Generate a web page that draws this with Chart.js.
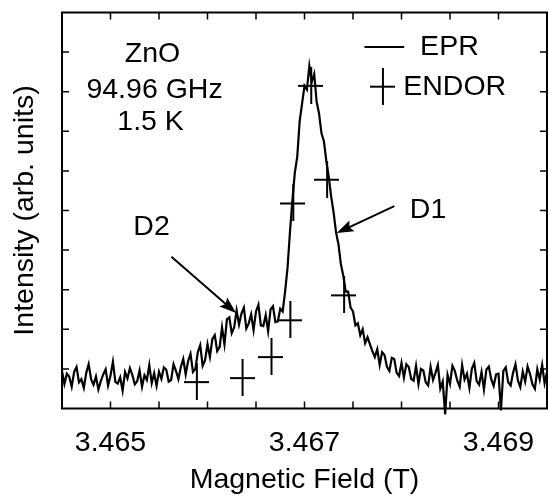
<!DOCTYPE html>
<html>
<head>
<meta charset="utf-8">
<script src="https://cdn.jsdelivr.net/npm/chart.js@4/dist/chart.umd.min.js"></script>
<style>
html,body{margin:0;padding:0;background:#fff;}
canvas{display:block;}
</style>
</head>
<body>
<canvas id="c" width="548" height="497"></canvas>
<script>
// ---------- data ----------
const xMin = 3.4645, xMax = 3.4695;
const yMin = 0, yMax = 10;
const xTickLabels = [3.465, 3.467, 3.469];

// EPR spectrum: magnetic field (T)
const eprField = [
3.464500,3.464525,3.464550,3.464575,3.464600,3.464625,3.464650,3.464675,3.464700,3.464725,
3.464750,3.464775,3.464800,3.464825,3.464850,3.464875,3.464900,3.464925,3.464950,3.464975,
3.465000,3.465025,3.465050,3.465075,3.465100,3.465125,3.465150,3.465175,3.465200,3.465225,
3.465250,3.465275,3.465300,3.465325,3.465350,3.465375,3.465400,3.465425,3.465450,3.465475,
3.465500,3.465525,3.465550,3.465575,3.465600,3.465625,3.465650,3.465675,3.465700,3.465725,
3.465750,3.465775,3.465800,3.465825,3.465850,3.465875,3.465900,3.465925,3.465950,3.465975,
3.466000,3.466025,3.466050,3.466075,3.466100,3.466125,3.466150,3.466175,3.466200,3.466225,
3.466250,3.466275,3.466300,3.466325,3.466350,3.466375,3.466400,3.466425,3.466450,3.466475,
3.466500,3.466525,3.466550,3.466575,3.466600,3.466625,3.466650,3.466675,3.466700,3.466725,
3.466750,3.466775,3.466800,3.466825,3.466850,3.466875,3.466900,3.466925,3.466950,3.466975,
3.467000,3.467025,3.467050,3.467075,3.467100,3.467125,3.467150,3.467175,3.467200,3.467225,
3.467250,3.467275,3.467300,3.467325,3.467350,3.467375,3.467400,3.467425,3.467450,3.467475,
3.467500,3.467525,3.467550,3.467575,3.467600,3.467625,3.467650,3.467675,3.467700,3.467725,
3.467750,3.467775,3.467800,3.467825,3.467850,3.467875,3.467900,3.467925,3.467950,3.467975,
3.468000,3.468025,3.468050,3.468075,3.468100,3.468125,3.468150,3.468175,3.468200,3.468225,
3.468250,3.468275,3.468300,3.468325,3.468350,3.468375,3.468400,3.468425,3.468450,3.468475,
3.468500,3.468525,3.468550,3.468575,3.468600,3.468625,3.468650,3.468675,3.468700,3.468725,
3.468750,3.468775,3.468800,3.468825,3.468850,3.468875,3.468900,3.468925,3.468950,3.468975,
3.469000,3.469025,3.469050,3.469075,3.469100,3.469125,3.469150,3.469175,3.469200,3.469225,
3.469250,3.469275,3.469300,3.469325,3.469350,3.469375,3.469400,3.469425,3.469450,3.469475,
3.469500
];
// EPR spectrum: intensity (arb. units)
const eprIntensity = [
0.95,0.62,0.88,0.80,0.55,0.92,1.05,0.66,0.74,0.52,
0.90,1.12,0.74,0.60,0.81,0.48,0.69,0.86,0.99,0.58,
0.83,1.18,0.67,0.63,0.79,0.45,0.92,0.76,1.02,0.85,
0.61,0.69,0.96,0.55,0.84,0.72,1.10,0.64,0.89,0.57,
0.93,0.75,1.04,0.98,0.68,0.72,1.12,0.95,0.74,1.05,
1.25,0.86,1.20,1.38,0.92,1.00,1.42,1.60,1.08,1.22,
1.62,1.30,1.75,1.85,1.45,1.55,2.05,1.62,2.25,2.30,
1.90,2.05,2.48,2.12,2.40,2.55,2.02,2.15,2.38,1.98,
2.45,2.62,2.10,2.08,2.36,1.95,2.50,2.58,2.18,2.20,
2.52,2.45,2.95,3.55,4.45,5.25,5.95,6.35,7.25,7.70,
8.15,8.05,8.65,8.25,8.45,7.75,7.45,6.95,6.75,6.25,
5.85,5.35,4.95,4.45,4.15,3.65,3.35,2.95,2.95,2.55,
2.45,2.10,2.15,1.85,2.00,1.65,1.80,1.62,1.45,1.30,
1.50,1.10,1.42,1.35,1.05,0.95,1.28,1.25,0.90,0.82,
1.15,0.78,1.12,1.05,0.75,0.70,1.08,0.62,1.00,0.96,
0.66,0.58,1.05,0.72,0.90,1.10,0.50,0.68,-0.15,0.85,
0.62,1.08,0.95,0.70,0.55,1.10,0.73,0.88,0.52,1.00,
1.15,0.69,0.60,0.92,0.48,0.98,1.06,0.74,0.57,0.86,
0.88,-0.05,0.95,1.04,0.66,0.58,0.90,1.12,0.71,0.54,
0.93,0.68,1.06,0.87,0.61,0.50,0.99,0.73,1.10,0.64,
0.92
];

// ENDOR points
const endorField = [3.465885, 3.466356, 3.466654, 3.466849, 3.466879, 3.467064, 3.467228, 3.467403];
const endorIntensity = [0.68, 0.78, 1.31, 2.24, 5.19, 8.16, 5.79, 2.87];

// ---------- styling ----------
const FONT = "'Liberation Sans', Arial, Helvetica, sans-serif";
const FS = 28.5;

function makeCross(w, h, lw) {
  const c = document.createElement('canvas');
  c.width = w; c.height = h;
  const g = c.getContext('2d');
  g.fillStyle = '#000';
  g.fillRect(0, Math.round(h / 2 - lw / 2), w, lw);
  g.fillRect(Math.round(w / 2 - lw / 2), 0, lw, h);
  return c;
}
const crossImg = makeCross(25, 37, 2);

const eprData = eprField.map((x, i) => ({ x: x, y: eprIntensity[i] }));
const endorData = endorField.map((x, i) => ({ x: x, y: endorIntensity[i] }));

function arrow(ctx, x1, y1, x2, y2) {
  const ang = Math.atan2(y2 - y1, x2 - x1);
  const L = 17, W = 6;
  const bx = x2 - L * Math.cos(ang), by = y2 - L * Math.sin(ang);
  ctx.beginPath();
  ctx.moveTo(x1, y1);
  ctx.lineTo(bx + 4 * Math.cos(ang), by + 4 * Math.sin(ang));
  ctx.lineWidth = 2;
  ctx.strokeStyle = '#000';
  ctx.stroke();
  ctx.beginPath();
  ctx.moveTo(x2, y2);
  ctx.lineTo(bx - W * Math.sin(ang), by + W * Math.cos(ang));
  ctx.lineTo(bx + 3 * Math.cos(ang), by + 3 * Math.sin(ang));
  ctx.lineTo(bx + W * Math.sin(ang), by - W * Math.cos(ang));
  ctx.closePath();
  ctx.fillStyle = '#000';
  ctx.fill();
}

const framePlugin = {
  id: 'frame',
  afterDraw(chart) {
    const { ctx, chartArea: a, scales: { x, y } } = chart;
    ctx.save();
    ctx.strokeStyle = '#000';
    ctx.lineWidth = 2;
    ctx.strokeRect(a.left, a.top, a.right - a.left, a.bottom - a.top);
    ctx.lineWidth = 1.5;
    const TL = 7;
    ctx.beginPath();
    x.ticks.forEach(t => {
      const px = x.getPixelForValue(t.value);
      if (px <= a.left + 1 || px >= a.right - 1) return;
      ctx.moveTo(px, a.bottom); ctx.lineTo(px, a.bottom - TL);
      ctx.moveTo(px, a.top); ctx.lineTo(px, a.top + TL);
    });
    y.ticks.forEach(t => {
      const py = y.getPixelForValue(t.value);
      if (py <= a.top + 1 || py >= a.bottom - 1) return;
      ctx.moveTo(a.left, py); ctx.lineTo(a.left + TL, py);
      ctx.moveTo(a.right, py); ctx.lineTo(a.right - TL, py);
    });
    ctx.stroke();

    const X = v => x.getPixelForValue(v), Y = v => y.getPixelForValue(v);
    ctx.fillStyle = '#000';
    ctx.font = FS + 'px ' + FONT;
    ctx.textBaseline = 'middle';
    ctx.textAlign = 'center';
    ctx.fillText('ZnO', X(3.465433), Y(8.95));
    ctx.fillText('94.96 GHz', X(3.465454), Y(8.04));
    ctx.fillText('1.5 K', X(3.465413), Y(7.23));
    ctx.fillText('D1', X(3.468274), Y(5.01));
    ctx.fillText('D2', X(3.465423), Y(4.58));

    // legend
    ctx.beginPath();
    ctx.lineWidth = 2;
    ctx.moveTo(X(3.467618), Y(9.13));
    ctx.lineTo(X(3.468028), Y(9.13));
    ctx.stroke();
    ctx.textAlign = 'left';
    ctx.fillText('EPR', X(3.468192), Y(9.13));
    ctx.drawImage(crossImg, X(3.467803) - crossImg.width / 2, Y(8.14) - crossImg.height / 2);
    ctx.fillText('ENDOR', X(3.468018), Y(8.12));

    // arrows
    arrow(ctx, X(3.467926), Y(5.11), X(3.467331), Y(4.43));
    arrow(ctx, X(3.465628), Y(3.83), X(3.466295), Y(2.41));
    ctx.restore();
  }
};

new Chart(document.getElementById('c'), {
  type: 'scatter',
  data: {
    datasets: [
      {
        label: 'EPR',
        data: eprData,
        showLine: true,
        borderColor: '#000',
        borderWidth: 2.2,
        borderJoinStyle: 'miter',
        pointRadius: 0,
        fill: false,
        tension: 0,
        clip: false
      },
      {
        label: 'ENDOR',
        data: endorData,
        showLine: false,
        pointStyle: crossImg,
        pointRadius: 12,
        borderColor: '#000',
        backgroundColor: '#000'
      }
    ]
  },
  options: {
    responsive: false,
    animation: false,
    devicePixelRatio: 1,
    layout: { autoPadding: false, padding: { top: 12.5, right: 1, left: 0, bottom: 0 } },
    plugins: { legend: { display: false }, tooltip: { enabled: false } },
    scales: {
      x: {
        type: 'linear',
        position: 'bottom',
        min: xMin, max: xMax,
        afterFit: s => { s.height = 88.5; s.paddingLeft = 0; s.paddingRight = 0; },
        grid: { display: false, drawTicks: false },
        border: { display: false },
        ticks: {
          stepSize: 0.0005,
          autoSkip: false,
          maxRotation: 0,
          padding: 18,
          color: '#000',
          font: { family: FONT, size: FS },
          callback: v => xTickLabels.some(l => Math.abs(l - v) < 1e-7) ? v.toFixed(3) : ''
        },
        title: {
          display: true,
          text: 'Magnetic Field (T)',
          color: '#000',
          font: { family: FONT, size: FS },
          padding: { top: 0, bottom: 0 }
        }
      },
      y: {
        type: 'linear',
        min: yMin, max: yMax,
        afterFit: s => { s.width = 62; s.paddingTop = 0; s.paddingBottom = 0; },
        grid: { display: false, drawTicks: false },
        border: { display: false },
        ticks: { stepSize: 1, display: false },
        title: {
          display: true,
          text: 'Intensity (arb. units)',
          color: '#000',
          font: { family: FONT, size: FS },
          padding: { top: 8, bottom: 0 }
        }
      }
    }
  },
  plugins: [framePlugin]
});
</script>
</body>
</html>
